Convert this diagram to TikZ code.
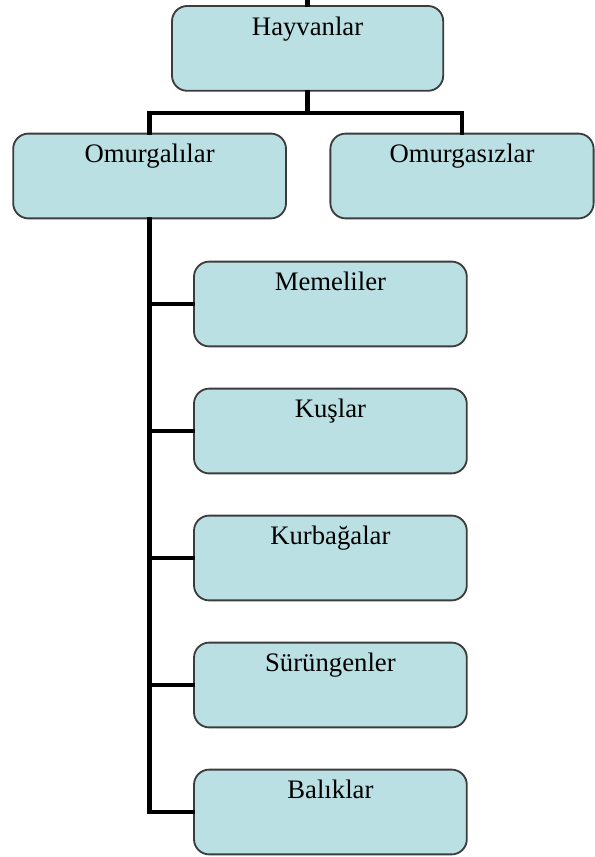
\documentclass[tikz,border=0pt]{standalone}
\usepackage{fontspec}
\setmainfont{Liberation Serif}
\definecolor{boxfill}{RGB}{186,224,228}
\definecolor{boxline}{RGB}{60,60,60}
\tikzset{
  kutu/.style={draw=boxline, line width=1.3pt, fill=boxfill, rounded corners=0.38cm,
    inner sep=0pt, text height=0.73cm, text depth=1.39cm,
    minimum width=6.82cm, font=\fontsize{19}{22}\selectfont},
  baglanti/.style={line width=3.1pt, line cap=rect}
}
\begin{document}
\begin{tikzpicture}
                \useasboundingbox (0,0) rectangle (14.875,-21.425);
                \node[kutu, minimum width=6.78cm] (hayvanlar) at (7.69,-1.21) {Hayvanlar};
                \node[kutu] (omurgalilar) at (3.74,-4.4) {Omurgalılar};
                \node[kutu, minimum width=6.58cm] (omurgasizlar) at (11.55,-4.4) {Omurgasızlar};
                \node[kutu] (memeliler) at (8.26,-7.6) {Memeliler};
                \node[kutu] (kuslar) at (8.26,-10.775) {Kuşlar};
                \node[kutu] (kurbagalar) at (8.26,-13.95) {Kurbağalar};
                \node[kutu] (surungenler) at (8.26,-17.125) {Sürüngenler};
                \node[kutu] (baliklar) at (8.26,-20.3) {Balıklar};

                \coordinate (ust) at (7.69,0);
                \coordinate (cubuk) at (7.69,-2.825);

                \draw[baglanti] (hayvanlar.north) -- (ust);
                \draw[baglanti] (hayvanlar.south) -- (cubuk);
                \draw[baglanti] (omurgalilar.north) |- (cubuk) -| (omurgasizlar.north);
                \draw[baglanti] (omurgalilar.south) |- (baliklar.west);
                \foreach \hayvan in {memeliler,kuslar,kurbagalar,surungenler}
                  \draw[baglanti] (omurgalilar.south |- \hayvan.west) -- (\hayvan.west);
            \end{tikzpicture}
\end{document}
